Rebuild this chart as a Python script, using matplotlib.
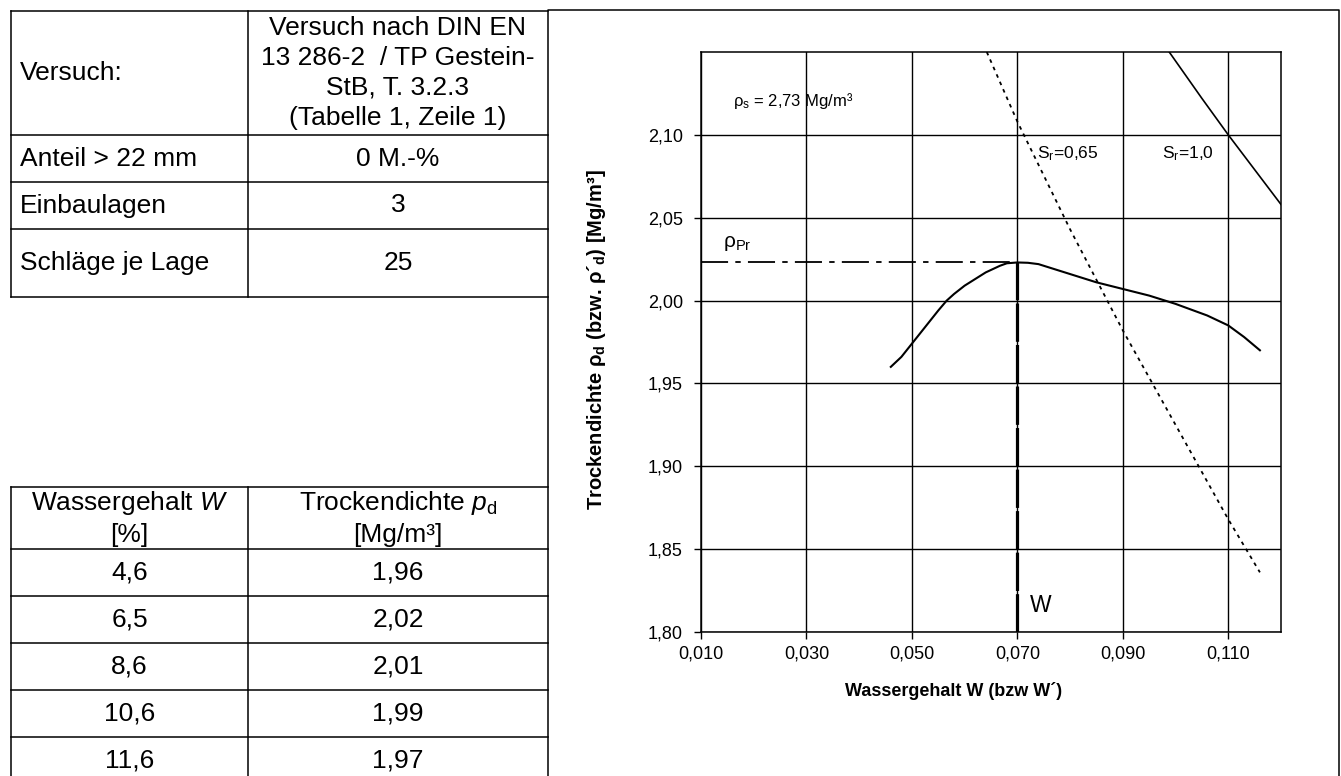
import matplotlib
matplotlib.use("Agg")
import matplotlib.pyplot as plt

plt.rcParams['font.family'] = ['Liberation Sans', 'DejaVu Sans']
plt.rcParams['mathtext.fontset'] = 'custom'
plt.rcParams['mathtext.rm'] = 'Liberation Sans'
plt.rcParams['mathtext.it'] = 'Liberation Sans:italic'
plt.rcParams['mathtext.bf'] = 'Liberation Sans:bold'

# Daten
info_labels = ["Versuch:", "Anteil > 22 mm", "Einbaulagen", "Schläge je Lage"]
info_values = ["Versuch nach DIN EN\n13 286-2  / TP Gestein-\nStB, T. 3.2.3\n(Tabelle 1, Zeile 1)",
               "0 M.-%", "3", "25"]
w_percent = [4.6, 6.5, 8.6, 10.6, 11.6]
rho_d = [1.96, 2.02, 2.01, 1.99, 1.97]

# Proctorkurve
proctor_w = [0.046, 0.048, 0.050, 0.0525, 0.055, 0.0566, 0.058, 0.060, 0.062,
             0.064, 0.0667, 0.068, 0.070, 0.072, 0.074, 0.078, 0.082, 0.085,
             0.090, 0.095, 0.100, 0.106, 0.110, 0.113, 0.116]
proctor_rho = [1.960, 1.966, 1.974, 1.984, 1.994, 2.000, 2.004, 2.009, 2.013,
               2.017, 2.021, 2.0225, 2.023, 2.0228, 2.022, 2.018, 2.014, 2.011,
               2.007, 2.003, 1.998, 1.991, 1.985, 1.978, 1.970]

# Sättigungslinien
sr065_w = [0.0642, 0.070, 0.080, 0.090, 0.100, 0.110, 0.116]
sr065_rho = [2.150, 2.108, 2.043, 1.982, 1.925, 1.868, 1.836]
sr10_w = [0.0988, 0.105, 0.110, 0.115, 0.120]
sr10_rho = [2.150, 2.122, 2.100, 2.079, 2.058]

rho_pr = 2.023
w_opt = 0.070

x_ticks = [0.010, 0.030, 0.050, 0.070, 0.090, 0.110]
y_ticks = [1.80, 1.85, 1.90, 1.95, 2.00, 2.05, 2.10]

W, H = 1341, 776
fig = plt.figure(figsize=(W / 100, H / 100), dpi=100)

# Hintergrund in Pixelkoordinaten fuer Tabellen und Rahmen
bg = fig.add_axes([0, 0, 1, 1])
bg.set_xlim(0, W)
bg.set_ylim(H, 0)
bg.axis('off')

lw = 1.1
fs_tab = 19
xl, xm, xr = 11, 248, 548

# obere Tabelle
rows1 = [11, 135, 182, 229, 297]
for y in rows1:
    bg.plot([xl, xr], [y, y], color='black', lw=lw)
bg.plot([xl, xl], [rows1[0], rows1[-1]], color='black', lw=lw)
bg.plot([xm, xm], [rows1[0], rows1[-1]], color='black', lw=lw)
for i in range(len(info_labels)):
    yc = (rows1[i] + rows1[i + 1]) / 2
    bg.text(xl + 9, yc, info_labels[i], fontsize=fs_tab, ha='left', va='center')
    bg.text((xm + xr) / 2, yc, info_values[i], fontsize=fs_tab, ha='center', va='center',
            linespacing=1.3)

# untere Tabelle
rows2 = [487, 549] + [549 + 47 * (i + 1) for i in range(len(w_percent))]
for y in rows2:
    bg.plot([xl, xr], [y, y], color='black', lw=lw)
bg.plot([xl, xl], [rows2[0], H + 5], color='black', lw=lw)
bg.plot([xm, xm], [rows2[0], H + 5], color='black', lw=lw)
bg.text((xl + xm) / 2, 518, "Wassergehalt $\\mathit{W}$\n[%]", fontsize=fs_tab,
        ha='center', va='center', linespacing=1.3)
bg.text((xm + xr) / 2, 518, "Trockendichte $\\mathit{p}_{\\mathrm{d}}$\n[Mg/m³]", fontsize=fs_tab,
        ha='center', va='center', linespacing=1.3)
for i in range(len(w_percent)):
    yc = (rows2[i + 1] + rows2[i + 2]) / 2
    bg.text((xl + xm) / 2, yc, f"{w_percent[i]:.1f}".replace('.', ','), fontsize=fs_tab,
            ha='center', va='center')
    bg.text((xm + xr) / 2, yc, f"{rho_d[i]:.2f}".replace('.', ','), fontsize=fs_tab,
            ha='center', va='center')

# Rahmen des Diagramms
bg.plot([xr, 1339, 1339, xr, xr], [H + 5, H + 5, 10, 10, H + 5], color='black', lw=lw)

# Achsenbeschriftungen
bg.text(954, 691, "Wassergehalt W (bzw W´)", fontsize=13, fontweight='bold',
        ha='center', va='center')
bg.text(597, 340, "Trockendichte ρ$_{\\mathbf{d}}$ (bzw. ρ´$_{\\mathbf{d}}$) [Mg/m³]",
        fontsize=14.5, fontweight='bold', rotation=90, ha='center', va='center')

# Diagramm
ax_l, ax_r, ax_t, ax_b = 701, 1281, 52, 632
ax = fig.add_axes([ax_l / W, (H - ax_b) / H, (ax_r - ax_l) / W, (ax_b - ax_t) / H])
ax.set_xlim(0.010, 0.120)
ax.set_ylim(1.80, 2.15)
ax.set_xticks(x_ticks)
ax.set_yticks(y_ticks)
ax.set_xticklabels([f"{v:.3f}".replace('.', ',') for v in x_ticks], fontsize=13)
ax.set_yticklabels([f"{v:.2f}".replace('.', ',') for v in y_ticks], fontsize=13)
ax.tick_params(direction='out', length=5, width=1)
ax.tick_params(axis='x', pad=5)
ax.tick_params(axis='y', pad=8)
ax.grid(True, color='black', lw=1)
for s in ax.spines.values():
    s.set_linewidth(1.1)

ax.plot(proctor_w, proctor_rho, color='black', lw=1.5)
ax.plot(sr065_w, sr065_rho, color='black', lw=1.3, ls=(0, (2, 2.5)))
ax.plot(sr10_w, sr10_rho, color='black', lw=1.2)
ax.plot([0.010, w_opt], [rho_pr, rho_pr], color='black', lw=1.3, ls=(0, (15, 4, 3, 4)))
ax.plot([w_opt, w_opt], [1.80, rho_pr], color='black', lw=2.3, ls=(0, (12, 1)))

ax.text(0.0161, 2.1204, "ρ$_\\mathrm{s}$ = 2,73 Mg/m³", fontsize=12, va='center')
ax.text(0.0142, 2.0344, "ρ$_\\mathrm{Pr}$", fontsize=15, va='center')
ax.text(0.0737, 2.0884, "S$_\\mathrm{r}$=0,65", fontsize=12.5, va='center')
ax.text(0.0974, 2.0884, "S$_\\mathrm{r}$=1,0", fontsize=12.5, va='center')
ax.text(0.0723, 1.816, "W", fontsize=16.5, va='center')

fig.savefig("out.png", dpi=100)
